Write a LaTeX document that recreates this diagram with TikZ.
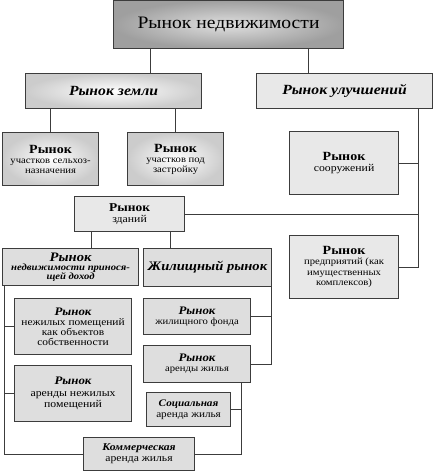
\documentclass[tikz,border=0pt]{standalone}
\usepackage{fontspec}
\setmainfont{Liberation Serif}[FakeStretch=1.12]
\usetikzlibrary{positioning,calc}
\definecolor{boxline}{RGB}{60,60,60}
\definecolor{marble}{RGB}{232,232,232}
\definecolor{granite}{RGB}{222,222,222}

\begin{document}
\begin{tikzpicture}[x=1pt,y=-1pt,
  box/.style={rectangle, draw=boxline, line width=1.1pt, anchor=north west, align=center, inner sep=1pt},
  boxsize/.style 2 args={minimum width=#1pt, minimum height=#2pt},
  headbox/.style={box, shading=radial, inner color=gray!25, outer color=gray!75},
  landbox/.style={box, shading=radial, inner color=white, outer color=gray!40},
  marblebox/.style={box, fill=marble},
  granitebox/.style={box, fill=granite},
  link/.style={draw=boxline, line width=0.8pt},
  sub/.style={font=\fontsize{9.5}{10}\selectfont},
]
  \useasboundingbox (0,0) rectangle (433,471);

  % Top level
  \node[headbox, boxsize={230}{48}, font=\fontsize{17.5}{19}\selectfont] (market) at (113,0) {Рынок недвижимости};

  % Land and improvements
  \node[landbox, boxsize={176}{35}, font=\fontsize{14}{16}\selectfont\bfseries\itshape] (land) at (25,73) {Рынок земли};
  \node[marblebox, boxsize={176}{35}, font=\fontsize{14}{16}\selectfont\bfseries\itshape] (improve) at (256,73) {Рынок улучшений};

  % Land plots
  \node[landbox, boxsize={96}{53}, sub] (farm) at (2,132) {{\fontsize{12.5}{14}\selectfont\bfseries Рынок}\\участков сельхоз-\\назначения};
  \node[landbox, boxsize={96}{53}, sub] (build) at (127,132) {{\fontsize{12.5}{14}\selectfont\bfseries Рынок}\\участков под\\застройку};

  % Improvements
  \node[marblebox, boxsize={109}{63}, font=\fontsize{10.5}{11.5}\selectfont] (struct) at (289,131) {{\fontsize{12.5}{14}\selectfont\bfseries Рынок}\\сооружений};
  \node[marblebox, boxsize={110}{35}, font=\fontsize{10.5}{11}\selectfont] (houses) at (74,196) {{\fontsize{12}{12}\selectfont\bfseries Рынок}\\зданий};
  \node[marblebox, boxsize={109}{63}, font=\fontsize{9.5}{10.5}\selectfont] (firms) at (289,235) {{\fontsize{12.5}{14}\selectfont\bfseries Рынок}\\предприятий (как\\имущественных\\комплексов)};

  % Buildings
  \node[granitebox, boxsize={136}{37}, font=\fontsize{9.5}{9}\selectfont\bfseries\itshape] (income) at (2,248) {{\fontsize{13}{13}\selectfont Рынок}\\недвижимости принося-\\щей доход};
  \node[granitebox, boxsize={128}{38}, font=\fontsize{13}{15}\selectfont\bfseries\itshape] (living) at (143,248) {Жилищный рынок};

  % Income property
  \node[granitebox, boxsize={117}{56}, font=\fontsize{10.2}{10}\selectfont] (own) at (14,298) {{\bfseries\itshape\fontsize{11.5}{12.5}\selectfont Рынок}\\нежилых помещений\\как объектов\\собственности};
  \node[granitebox, boxsize={117}{56}, font=\fontsize{10.5}{11.5}\selectfont] (rentoff) at (14,365) {{\bfseries\itshape\fontsize{11.5}{12.5}\selectfont Рынок}\\аренды нежилых\\помещений};

  % Housing
  \node[granitebox, boxsize={107}{36}, sub] (stock) at (143,298) {{\bfseries\itshape\fontsize{11.5}{12.5}\selectfont Рынок}\\жилищного фонда};
  \node[granitebox, boxsize={107}{37}, sub] (renthome) at (143,345) {{\bfseries\itshape\fontsize{11.5}{12.5}\selectfont Рынок}\\аренды жилья};
  \node[granitebox, boxsize={84}{34}, font=\fontsize{10}{11}\selectfont] (social) at (146,392) {{\bfseries\itshape Социальная}\\аренда жилья};
  \node[granitebox, boxsize={111}{33}, font=\fontsize{10.4}{11}\selectfont] (commerce) at (83,437) {{\bfseries\itshape Коммерческая}\\аренда жилья};

  % Links
  \draw[link] ([xshift=37pt]market.south west) -- ([xshift=37pt]market.south west |- land.north);
  \draw[link] ([xshift=-36pt]market.south east) -- ([xshift=-36pt]market.south east |- improve.north);
  \draw[link] (farm.north) -- (farm.north |- land.south);
  \draw[link] (build.north) -- (build.north |- land.south);
  \coordinate (trunk) at ([xshift=-15pt]improve.south east);
  \draw[link] (trunk) |- (firms.east);
  \draw[link] (struct.east) -- (struct.east -| trunk);
  \draw[link] (houses.east) -- (houses.east -| trunk);
  \draw[link] ([xshift=17pt]houses.south west) -- ([xshift=17pt]houses.south west |- income.north);
  \draw[link] ([xshift=-15pt]houses.south east) -- ([xshift=-15pt]houses.south east |- living.north);
  \coordinate (left) at ([xshift=2pt]income.south west);
  \draw[link] (left) |- (commerce.west);
  \draw[link] (own.west) -- (own.west -| left);
  \draw[link] (rentoff.west) -- (rentoff.west -| left);
  \coordinate (right) at ([xshift=-1pt]living.south east);
  \draw[link] (right) |- (renthome.east);
  \draw[link] (stock.east) -- (stock.east -| right);
  \coordinate (rent) at ([xshift=-10pt]renthome.south east);
  \draw[link] (rent) |- (commerce.east);
  \draw[link] (social.east) -- (social.east -| rent);
\end{tikzpicture}
\end{document}
